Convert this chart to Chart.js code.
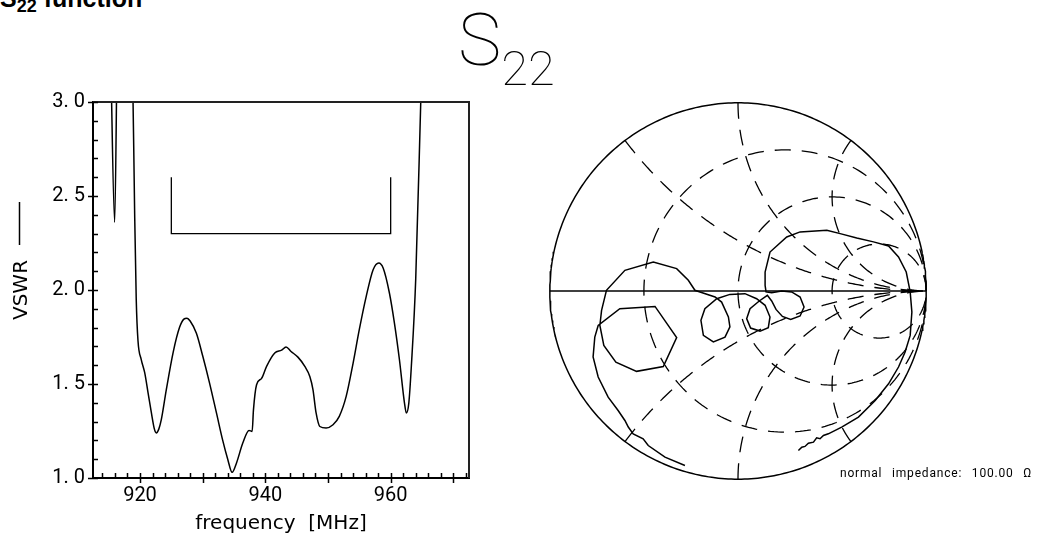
<!DOCTYPE html>
<html>
<head>
<meta charset="utf-8">
<script src="https://cdn.jsdelivr.net/npm/chart.js@4.4.0/dist/chart.umd.min.js"></script>
<style>
  html, body { margin: 0; padding: 0; background: #fff; }
  body { position: relative; width: 1037px; height: 540px; overflow: hidden; }
  #title { position: absolute; left: 0; top: -14px; font: bold 25px 'Liberation Sans', Arial, sans-serif; line-height: 25px; white-space: nowrap; }
  #title sub { font-size: 18px; vertical-align: -5px; line-height: 0; }
  #bigTitle { position: absolute; left: 458px; top: 4px; font-family: Roboto, sans-serif; font-weight: 100; font-size: 73px; line-height: 72px; white-space: nowrap; }
  #bigTitle sub { font-size: 49px; vertical-align: -20px; line-height: 0; }
  #vswrBox { position: absolute; left: 0; top: 0; width: 480px; height: 540px; }
  #smithBox { position: absolute; left: 531px; top: 84px; width: 414px; height: 414px; }
  #imp { position: absolute; left: 840px; top: 466px; font-family: Roboto, sans-serif; font-size: 12px; line-height: 14px; letter-spacing: 0.8px; word-spacing: 6px; white-space: nowrap; }
</style>
</head>
<body>
<div id="title">S<sub>22</sub> function</div>
<div id="bigTitle">S<sub>22</sub></div>
<div id="vswrBox"><canvas id="vswrChart"></canvas></div>
<div id="smithBox"><canvas id="smithChart"></canvas></div>
<div id="imp">normal impedance: 100.00 Ω</div>
<script>
// VSWR over the sweep (values above 3.0 run off the top of the plot)
const freqMHz = [912.5, 915.2, 915.96, 916.4, 917.5, 918.8, 919.15, 919.4, 919.68, 920.2,
  920.75, 921.3, 921.8, 922.3, 922.6, 923.0, 923.4, 924.2, 925.3, 926.3,
  927.0, 927.5, 928.0, 929.0, 930.0, 931.1, 932.2, 933.2, 934.0, 934.7,
  935.4, 936.4, 937.4, 937.9, 938.1, 938.6, 939.4, 940.2, 941.5, 942.6,
  943.3, 944.1, 945.2, 946.3, 947.1, 947.6, 948.1, 948.7, 949.7, 950.8,
  951.8, 952.9, 954.0, 955.0, 956.1, 957.2, 958.1, 958.8, 959.8, 960.6,
  961.4, 962.2, 962.5, 962.9, 963.3, 964.0, 964.8, 965.3, 972.5];
const vswr = [4.2, 3.4, 2.36, 3.4, 4.2, 3.2, 2.4, 1.95, 1.73, 1.63,
  1.56, 1.45, 1.35, 1.26, 1.24, 1.26, 1.31, 1.47, 1.67, 1.80,
  1.845, 1.85, 1.835, 1.77, 1.65, 1.505, 1.346, 1.20, 1.10, 1.03,
  1.08, 1.186, 1.253, 1.248, 1.36, 1.496, 1.53, 1.594, 1.665, 1.68,
  1.697, 1.673, 1.643, 1.594, 1.54, 1.47, 1.346, 1.274, 1.266, 1.283,
  1.328, 1.434, 1.61, 1.79, 1.966, 2.108, 2.144, 2.117, 1.984, 1.824,
  1.629, 1.40, 1.346, 1.40, 1.594, 2.06, 3.0, 3.6, 4.2];

// spec mask bracket
const maskFreq = [925, 925, 960, 960];
const maskVswr = [2.6, 2.3, 2.3, 2.6];

const xTickValues = [920, 930, 940, 950, 960, 970];
const yTickValues = [1.0, 1.5, 2.0, 2.5, 3.0];

const gammaRe = [-0.282, -0.388, -0.477, -0.504, -0.557, -0.583, -0.601, -0.637, -0.690, -0.743,
  -0.770, -0.761, -0.743, -0.628, -0.441, -0.326, -0.397, -0.539, -0.649, -0.713,
  -0.734, -0.725, -0.699, -0.601, -0.450, -0.326, -0.264, -0.229, -0.202, -0.122,
  -0.087, -0.051, -0.043, -0.069, -0.131, -0.184, -0.197, -0.176, -0.113, -0.043,
  0.037, 0.099, 0.144, 0.170, 0.161, 0.117, 0.067, 0.046, 0.064, 0.113,
  0.156, 0.179, 0.202, 0.236, 0.280, 0.330, 0.351, 0.330, 0.285, 0.232,
  0.179, 0.149, 0.144, 0.144, 0.170, 0.259, 0.330, 0.472, 0.543, 0.631,
  0.720, 0.800, 0.853, 0.894, 0.915, 0.924, 0.915, 0.888, 0.853, 0.800,
  0.729, 0.640, 0.551, 0.480, 0.454, 0.436, 0.418, 0.401, 0.374, 0.356,
  0.339, 0.321];
const gammaIm = [-0.927, -0.883, -0.821, -0.785, -0.759, -0.723, -0.688, -0.635, -0.564, -0.457,
  -0.351, -0.245, -0.183, -0.094, -0.082, -0.248, -0.401, -0.427, -0.378, -0.289,
  -0.183, -0.103, 0.004, 0.110, 0.154, 0.119, 0.057, 0.004, -0.005, -0.032,
  -0.059, -0.138, -0.191, -0.245, -0.271, -0.236, -0.156, -0.094, -0.041, -0.018,
  -0.014, -0.041, -0.076, -0.138, -0.195, -0.213, -0.197, -0.147, -0.094, -0.053,
  -0.023, -0.053, -0.098, -0.135, -0.151, -0.133, -0.085, -0.032, -0.005, 0.000,
  -0.009, -0.005, 0.030, 0.101, 0.207, 0.287, 0.314, 0.323, 0.305, 0.282,
  0.261, 0.239, 0.181, 0.101, -0.005, -0.112, -0.236, -0.324, -0.404, -0.493,
  -0.582, -0.670, -0.723, -0.759, -0.768, -0.785, -0.780, -0.803, -0.809, -0.826,
  -0.830, -0.848];

// Smith chart grid
const resistanceCircles = [1 / 3, 1, 3];
const reactanceArcs = [0.5, 1, 2, -0.5, -1, -2];

Chart.defaults.font.family = "Roboto, sans-serif";
Chart.defaults.color = '#000';

const vswrFrame = {
  id: 'vswrFrame',
  afterDraw(chart) {
    const { ctx, chartArea: a, scales: { x, y } } = chart;
    ctx.save();
    ctx.strokeStyle = '#222';
    ctx.lineWidth = 2;
    ctx.beginPath();
    ctx.moveTo(a.left, a.top);
    ctx.lineTo(a.right, a.top);
    ctx.lineTo(a.right, a.bottom);
    ctx.stroke();

    ctx.strokeStyle = '#000';
    ctx.lineWidth = 1.5;
    ctx.beginPath();
    for (let v = 914; v <= 972; v += 2) {
      const px = Math.round(x.getPixelForValue(v)) + 0.5;
      ctx.moveTo(px, a.bottom - 5);
      ctx.lineTo(px, a.bottom + (v % 10 === 0 ? 5 : 0));
    }
    for (let i = 10; i <= 30; i++) {
      const py = Math.round(y.getPixelForValue(i / 10)) + 0.5;
      ctx.moveTo(a.left + 5, py);
      ctx.lineTo(a.left - (i % 5 === 0 ? 5 : 0), py);
    }
    ctx.stroke();

    // legend line next to the axis title
    ctx.beginPath();
    ctx.moveTo(19.5, a.top + 100);
    ctx.lineTo(19.5, a.top + 143);
    ctx.stroke();
    ctx.restore();
  }
};

new Chart(document.getElementById('vswrChart'), {
  type: 'line',
  data: {
    datasets: [{
      data: freqMHz.map((f, i) => ({ x: f, y: vswr[i] })),
      borderColor: '#000',
      borderWidth: 1.5,
      pointRadius: 0,
      cubicInterpolationMode: 'monotone'
    }, {
      data: maskFreq.map((f, i) => ({ x: f, y: maskVswr[i] })),
      borderColor: '#000',
      borderWidth: 1.3,
      pointRadius: 0,
      tension: 0
    }]
  },
  options: {
    animation: false,
    responsive: true,
    maintainAspectRatio: false,
    layout: { padding: { top: 102, right: 11, left: 0, bottom: 0 } },
    plugins: { legend: { display: false }, tooltip: { enabled: false } },
    scales: {
      x: {
        type: 'linear', min: 912.5, max: 972.5,
        grid: { display: false, drawTicks: false },
        border: { display: true, color: '#000', width: 2 },
        afterBuildTicks: s => { s.ticks = xTickValues.map(v => ({ value: v })); },
        afterFit: s => { s.height = 62; },
        ticks: {
          autoSkip: false, maxRotation: 0, padding: 6,
          font: { size: 20 },
          callback: v => (v % 20 === 0 ? String(v) : '')
        },
        title: { display: true, text: 'frequency  [MHz]', font: { family: "'DejaVu Sans', sans-serif", size: 20 }, padding: { top: 0, bottom: 4 } }
      },
      y: {
        type: 'linear', min: 1, max: 3,
        grid: { display: false, drawTicks: false },
        border: { display: true, color: '#000', width: 2 },
        afterBuildTicks: s => { s.ticks = yTickValues.map(v => ({ value: v })); },
        afterFit: s => { s.width = 93; },
        ticks: {
          padding: 8,
          font: { size: 20 },
          callback: v => v.toFixed(1).replace('.', '. ')
        },
        title: { display: true, text: 'VSWR', font: { family: "'DejaVu Sans', sans-serif", size: 20 }, padding: { top: 10, bottom: 0 } }
      }
    }
  },
  plugins: [vswrFrame]
});

// Smith chart
function circlePoints(cx, cy, rad, n) {
  const pts = [];
  for (let i = 0; i <= n; i++) {
    const a = i / n * 2 * Math.PI;
    pts.push({ x: cx + rad * Math.cos(a), y: cy + rad * Math.sin(a) });
  }
  return pts;
}
function reactancePoints(xv, n) {
  const pts = [];
  for (let i = 0; i < n; i++) {
    const r = Math.tan(i / n * Math.PI / 2);
    const d = (r + 1) * (r + 1) + xv * xv;
    pts.push({ x: (r * r + xv * xv - 1) / d, y: 2 * xv / d });
  }
  pts.push({ x: 1, y: 0 });
  return pts;
}

const line = (data, dashed, width) => ({
  data, showLine: true, pointRadius: 0, borderColor: '#000',
  borderWidth: width, borderDash: dashed ? [16, 11] : [], tension: 0, clip: false
});

const smithSets = [
  line(circlePoints(0, 0, 1, 360), false, 1.5),
  line([{ x: -1, y: 0 }, { x: 1, y: 0 }], false, 1.5)
];
resistanceCircles.forEach(r => smithSets.push(line(circlePoints(r / (r + 1), 0, 1 / (r + 1), 240), true, 1.3)));
reactanceArcs.forEach(xv => smithSets.push(line(reactancePoints(xv, 240), true, 1.3)));
smithSets.push(line(gammaRe.map((g, i) => ({ x: g, y: gammaIm[i] })), false, 1.5));

new Chart(document.getElementById('smithChart'), {
  type: 'scatter',
  data: { datasets: smithSets },
  options: {
    animation: false,
    responsive: true,
    maintainAspectRatio: false,
    layout: { padding: 0 },
    plugins: { legend: { display: false }, tooltip: { enabled: false } },
    scales: {
      x: { type: 'linear', min: -1.1, max: 1.1, display: false },
      y: { type: 'linear', min: -1.1, max: 1.1, display: false }
    }
  }
});
</script>
</body>
</html>
